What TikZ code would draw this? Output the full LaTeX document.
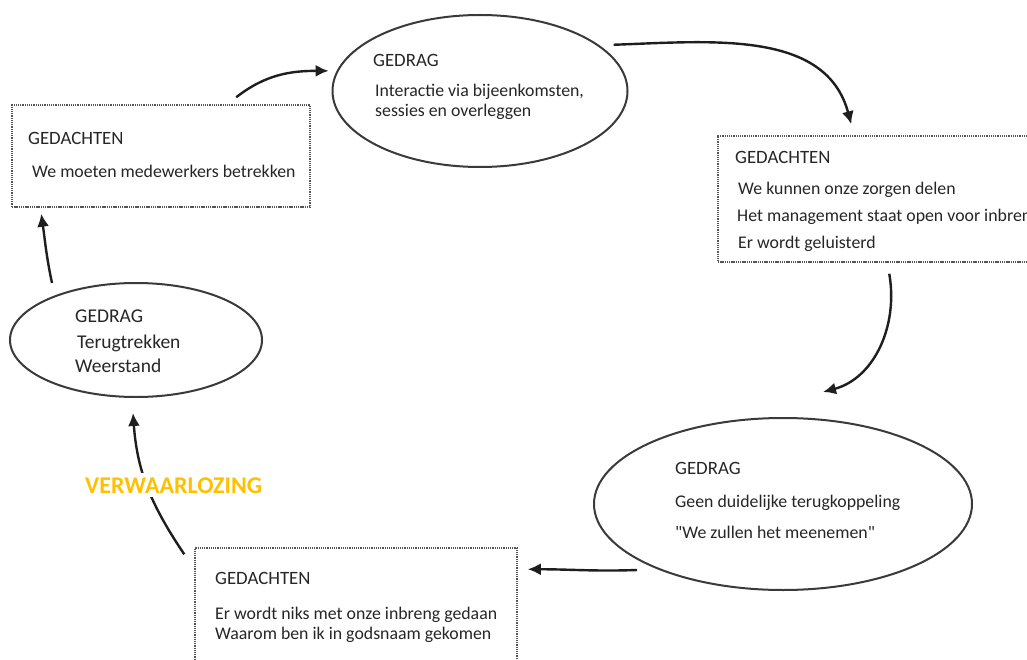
\documentclass[tikz,border=0pt]{standalone}
\usepackage{fontspec}
\setmainfont{Carlito}[Ligatures=TeXOff]
\usetikzlibrary{shapes.geometric,arrows.meta}
\definecolor{inkText}{HTML}{262626}
\definecolor{inkLine}{HTML}{1E1E1E}
\definecolor{inkRim}{HTML}{3A3A3A}
\definecolor{inkDots}{HTML}{555555}
\definecolor{warnGold}{HTML}{FFC000}
\begin{document}
\begin{tikzpicture}[x=1pt,y=-1pt,
  thoughtbox/.style={draw=inkDots,line width=1.5pt,dash pattern=on 1.3pt off 0.9pt,
    rectangle,inner sep=0pt},
  actbubble/.style={draw=inkRim,line width=2pt,ellipse,inner sep=0pt},
  txt/.style={anchor=base west,inner sep=0pt,text=inkText,
    font=\fontsize{17.8}{21}\selectfont},
  head/.style={txt,font=\fontsize{18.8}{22}\selectfont},
  bigtxt/.style={txt,font=\fontsize{19.5}{23}\selectfont},
  flow/.style={draw=inkLine,line width=2.4pt,
    -{Latex[length=13pt,width=12pt]}}]
\useasboundingbox (0,0) rectangle (1027,660);
\clip (0,0) rectangle (1027,660);
\fill[white] (0,0) rectangle (1027,660);

% shapes
\node[thoughtbox,minimum width=298pt,minimum height=102pt] (tlbox) at (161,156) {};
\node[actbubble,minimum width=295pt,minimum height=152pt] (topell) at (480,91) {};
\node[thoughtbox,minimum width=327pt,minimum height=126pt] (rbox) at (881.5,199) {};
\node[actbubble,minimum width=378pt,minimum height=172pt] (brell) at (783,504) {};
\node[thoughtbox,minimum width=322pt,minimum height=132pt] (bbox) at (356,614) {};
\node[actbubble,minimum width=252pt,minimum height=114pt] (lell) at (136,340) {};

% texts
\node[head] (tlT) at (28,145) {GEDACHTEN};
\node[txt] (tlA) at (32,178) {We moeten medewerkers betrekken};

\node[head] (tpT) at (373,67) {GEDRAG};
\node[txt] (tpA) at (375,97) {Interactie via bijeenkomsten,};
\node[txt] (tpB) at (375,117) {sessies en overleggen};

\node[head] (rT) at (735,164) {GEDACHTEN};
\node[txt] (rA) at (738,195) {We kunnen onze zorgen delen};
\node[txt] (rB) at (737,222) {Het management staat open voor inbreng};
\node[txt] (rC) at (738,248) {Er wordt geluisterd};

\node[head] (brT) at (675,474) {GEDRAG};
\node[txt] (brA) at (675,507) {Geen duidelijke terugkoppeling};
\node[txt] (brB) at (675,538) {"We zullen het meenemen"};

\node[head] (bT) at (215,584) {GEDACHTEN};
\node[txt] (bA) at (215,619) {Er wordt niks met onze inbreng gedaan};
\node[txt] (bB) at (215,639) {Waarom ben ik in godsnaam gekomen};

\node[bigtxt] (lT) at (75,322) {GEDRAG};
\node[bigtxt] (lA) at (77,348) {Terugtrekken};
\node[bigtxt] (lB) at (75,372) {Weerstand};

% cycle arrows
\draw[flow] ([xshift=225pt,yshift=7pt]tlbox.north west)
  to[out=38,in=180] ([xshift=-8pt]topell.172);
\draw[flow] ([xshift=12pt,yshift=2pt]topell.20)
  to[out=2,in=105] ([xshift=134pt,yshift=11pt]rbox.north west);
\draw[flow] ([xshift=172pt,yshift=-11pt]rbox.south west)
  to[out=-80,in=15] ([xshift=40pt,yshift=25pt]brell.north);
\draw[flow] ([xshift=-146pt,yshift=-66pt]brell.center)
  to[out=182,in=0] ([xshift=10pt,yshift=-22pt]bbox.north east);
\draw[flow] ([xshift=-10pt,yshift=-7pt]bbox.north west)
  to[out=124,in=-86] ([xshift=-3pt,yshift=-15pt]lell.south);
\draw[flow] ([xshift=-84pt,yshift=57pt]lell.center)
  to[out=102,in=-82] ([xshift=30pt,yshift=-6pt]tlbox.south west);

% label laid over the last arrow
\node[anchor=base west,inner xsep=2pt,inner ysep=4pt,fill=white,text=warnGold,
  font=\fontsize{24}{28}\selectfont\bfseries] (warn) at (83,493) {VERWAARLOZING};
\end{tikzpicture}
\end{document}
